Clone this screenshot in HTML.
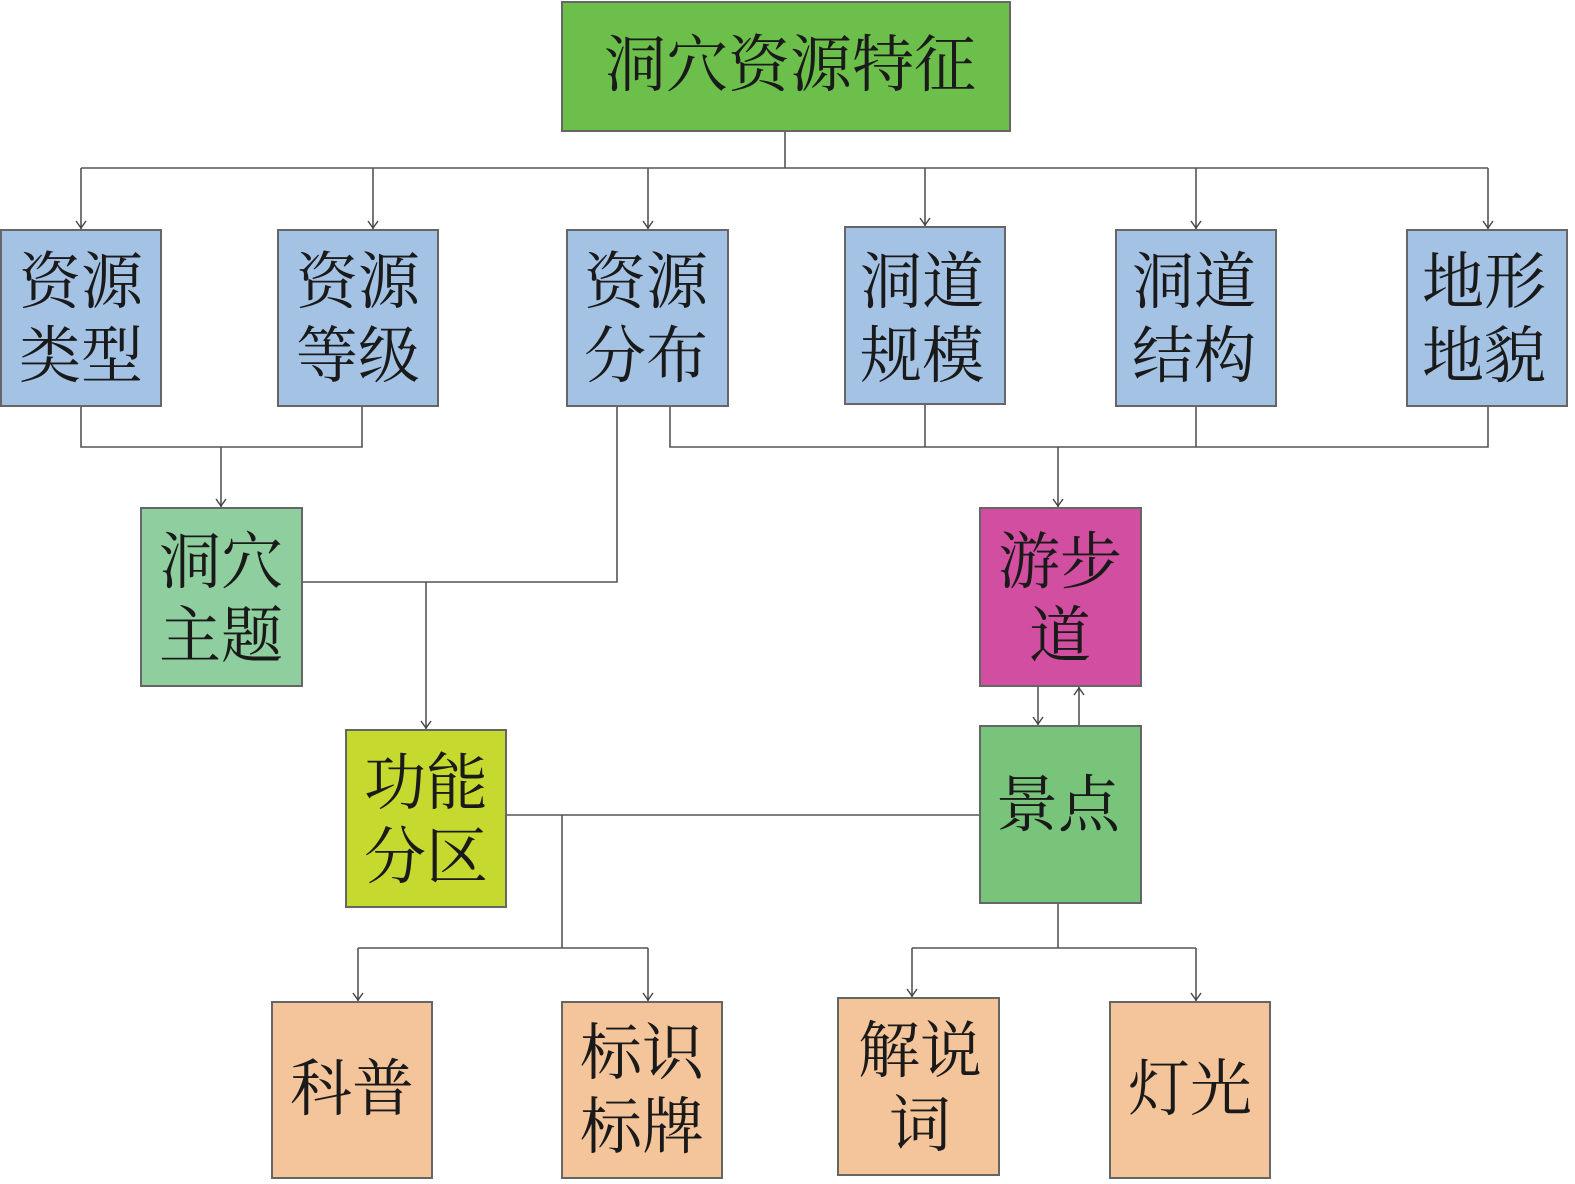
<!DOCTYPE html>
<html><head><meta charset="utf-8"><style>
html,body{margin:0;padding:0;background:#fff;overflow:hidden;width:1575px;height:1184px}
svg{display:block}
text{font-family:"Liberation Serif","Noto Serif CJK SC",serif;font-size:62px;fill:#1a1a1a;text-anchor:middle;dominant-baseline:central}
</style></head><body>
<svg width="1575" height="1184" viewBox="0 0 1575 1184" xmlns="http://www.w3.org/2000/svg">
<g stroke="#555" stroke-width="1.6" fill="none">
<line x1="785" y1="131" x2="785" y2="168"/>
<line x1="81" y1="168" x2="1488" y2="168"/>
<line x1="81" y1="168" x2="81" y2="229"/>
<line x1="373" y1="168" x2="373" y2="229"/>
<line x1="648" y1="168" x2="648" y2="229"/>
<line x1="925" y1="168" x2="925" y2="226"/>
<line x1="1196" y1="168" x2="1196" y2="229"/>
<line x1="1488" y1="168" x2="1488" y2="229"/>
<polyline points="81,406 81,447 362,447 362,406"/>
<line x1="221" y1="447" x2="221" y2="507"/>
<polyline points="617,406 617,582 302,582"/>
<line x1="426" y1="582" x2="426" y2="729"/>
<polyline points="670,406 670,447 1488,447 1488,406"/>
<line x1="925" y1="404" x2="925" y2="447"/>
<line x1="1196" y1="406" x2="1196" y2="447"/>
<line x1="1058" y1="447" x2="1058" y2="507"/>
<line x1="1038" y1="686" x2="1038" y2="725"/>
<line x1="1079" y1="726" x2="1079" y2="687"/>
<line x1="506" y1="815" x2="980" y2="815"/>
<line x1="562" y1="815" x2="562" y2="948"/>
<line x1="358" y1="948" x2="648" y2="948"/>
<line x1="358" y1="948" x2="358" y2="1001"/>
<line x1="648" y1="948" x2="648" y2="1001"/>
<line x1="1058" y1="903" x2="1058" y2="948"/>
<line x1="912" y1="948" x2="1196" y2="948"/>
<line x1="912" y1="948" x2="912" y2="997"/>
<line x1="1196" y1="948" x2="1196" y2="1001"/>
</g>
<g stroke="#444" stroke-width="1.4" fill="none">
<polyline points="76,221 81,228 86,221"/>
<polyline points="368,221 373,228 378,221"/>
<polyline points="643,221 648,228 653,221"/>
<polyline points="920,218 925,225 930,218"/>
<polyline points="1191,221 1196,228 1201,221"/>
<polyline points="1483,221 1488,228 1493,221"/>
<polyline points="216,499 221,506 226,499"/>
<polyline points="1053,499 1058,506 1063,499"/>
<polyline points="421,721 426,728 431,721"/>
<polyline points="1033,717 1038,724 1043,717"/>
<polyline points="1074,695 1079,688 1084,695"/>
<polyline points="353,993 358,1000 363,993"/>
<polyline points="643,993 648,1000 653,993"/>
<polyline points="907,989 912,996 917,989"/>
<polyline points="1191,993 1196,1000 1201,993"/>
</g>
<g stroke="#666" stroke-width="2">
<rect x="562" y="2" width="448" height="129" fill="#6dbf4b"/>
<rect x="1" y="230" width="160" height="176" fill="#a4c2e4"/>
<rect x="278" y="230" width="160" height="176" fill="#a4c2e4"/>
<rect x="567" y="230" width="161" height="176" fill="#a4c2e4"/>
<rect x="845" y="227" width="160" height="177" fill="#a4c2e4"/>
<rect x="1116" y="230" width="160" height="176" fill="#a4c2e4"/>
<rect x="1407" y="230" width="160" height="176" fill="#a4c2e4"/>
<rect x="141" y="508" width="161" height="178" fill="#8fcf9f"/>
<rect x="980" y="508" width="161" height="178" fill="#d24ea0"/>
<rect x="346" y="730" width="160" height="177" fill="#c5d92f"/>
<rect x="980" y="726" width="161" height="177" fill="#78c47a"/>
<rect x="272" y="1002" width="160" height="176" fill="#f4c49a"/>
<rect x="562" y="1002" width="160" height="176" fill="#f4c49a"/>
<rect x="838" y="998" width="161" height="177" fill="#f4c49a"/>
<rect x="1110" y="1002" width="160" height="176" fill="#f4c49a"/>
</g>
<text x="790" y="66">洞穴资源特征</text>
<text x="81" y="283">资源</text><text x="81" y="357">类型</text>
<text x="358" y="283">资源</text><text x="358" y="357">等级</text>
<text x="646" y="283">资源</text><text x="646" y="357">分布</text>
<text x="922" y="283">洞道</text><text x="922" y="357">规模</text>
<text x="1194" y="283">洞道</text><text x="1194" y="357">结构</text>
<text x="1484" y="283">地形</text><text x="1484" y="357">地貌</text>
<text x="221" y="563">洞穴</text><text x="221" y="637">主题</text>
<text x="1060" y="563">游步</text><text x="1060" y="637">道</text>
<text x="426" y="784">功能</text><text x="426" y="858">分区</text>
<text x="1058" y="806">景点</text>
<text x="352" y="1090">科普</text>
<text x="642" y="1054">标识</text><text x="642" y="1128">标牌</text>
<text x="920" y="1052">解说</text><text x="920" y="1126">词</text>
<text x="1190" y="1090">灯光</text>
</svg>
</body></html>
